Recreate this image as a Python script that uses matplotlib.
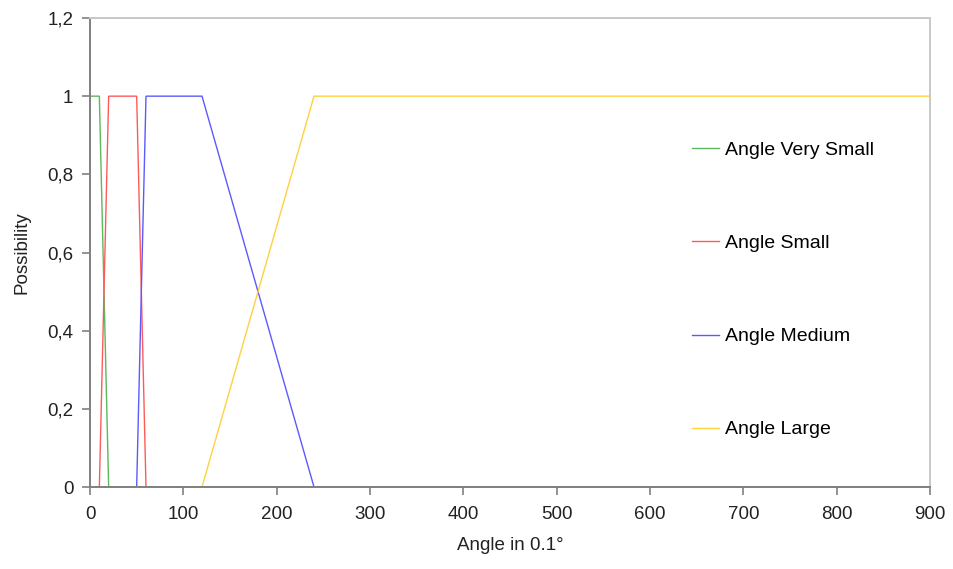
import matplotlib
matplotlib.use("Agg")
import matplotlib.pyplot as plt
from matplotlib.ticker import FuncFormatter

plt.rcParams['font.family'] = ['Liberation Sans', 'DejaVu Sans']

# Membership functions of the angle (in tenths of a degree)
very_small_x = [0, 10, 20, 900]
very_small_y = [1, 1, 0, 0]
small_x = [0, 10, 20, 50, 60, 900]
small_y = [0, 0, 1, 1, 0, 0]
medium_x = [0, 50, 60, 120, 240, 900]
medium_y = [0, 0, 1, 1, 0, 0]
large_x = [0, 120, 240, 900]
large_y = [0, 0, 1, 1]

series_labels = ["Angle Very Small", "Angle Small", "Angle Medium", "Angle Large"]
series_colors = ["#5cb85c", "#ff5a5a", "#5a5aff", "#ffd040"]

x_ticks = list(range(0, 901, 100))
y_ticks = [0, 0.2, 0.4, 0.6, 0.8, 1.0, 1.2]

fig = plt.figure(figsize=(9.54, 5.69), dpi=100)
ax = fig.add_axes([90 / 954, 82 / 569, 840 / 954, 469 / 569])

series = [(very_small_x, very_small_y), (small_x, small_y),
          (medium_x, medium_y), (large_x, large_y)]
for (xs, ys), lab, col in zip(series, series_labels, series_colors):
    ax.plot(xs, ys, color=col, lw=1.0, label=lab, solid_joinstyle='miter')

ax.set_xlim(0, 900)
ax.set_ylim(0, 1.2)
ax.set_xticks(x_ticks)
ax.set_yticks(y_ticks)


def comma_fmt(v, pos):
    s = f"{v:.1f}".rstrip('0').rstrip('.')
    return s.replace('.', ',')


ax.yaxis.set_major_formatter(FuncFormatter(comma_fmt))

for side in ("left", "bottom"):
    ax.spines[side].set_color("#808080")
    ax.spines[side].set_linewidth(1.4)
for side in ("top", "right"):
    ax.spines[side].set_color("#c8c8c8")
    ax.spines[side].set_linewidth(1.4)

ax.tick_params(axis='both', direction='out', length=6, width=1.2,
               color="#808080", labelsize=13.5, labelcolor="#222222")
ax.tick_params(axis='x', pad=8)
ax.tick_params(axis='y', pad=6)

ax.set_xlabel("Angle in 0.1°", fontsize=13.5, color="#222222", labelpad=10)
ax.set_ylabel("Possibility", fontsize=13.5, color="#222222", labelpad=12)

ax.legend(loc='center left', bbox_to_anchor=(692 / 954, 1 - 290 / 569),
          bbox_transform=fig.transFigure, frameon=False, fontsize=14,
          labelspacing=3.88, handlelength=1.4, handletextpad=0.3,
          borderpad=0, borderaxespad=0)

fig.savefig("out.png", dpi=100)
